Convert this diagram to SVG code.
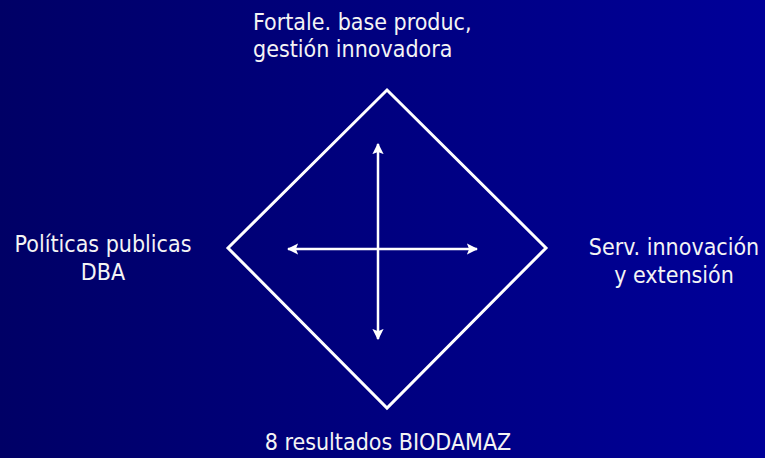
<svg xmlns="http://www.w3.org/2000/svg" width="765" height="458" viewBox="0 0 765 458">
<defs>
<linearGradient id="bg" x1="0" y1="0" x2="1" y2="0">
<stop offset="0" stop-color="#000066"/>
<stop offset="1" stop-color="#000099"/>
</linearGradient>
<marker id="ah" viewBox="0 0 10 10" refX="9" refY="5" markerWidth="4.5" markerHeight="4.5" orient="auto-start-reverse" markerUnits="strokeWidth">
<path d="M0,0 L10,5 L0,10 L2,5 Z" fill="#ffffff"/>
</marker>
<style>
.t{font-family:"DejaVu Sans Condensed","DejaVu Sans",sans-serif;font-size:23px;fill:#f4f4f4}
.ln{stroke:#ffffff;stroke-width:2.5;fill:none}
</style>
</defs>
<rect width="765" height="458" fill="url(#bg)"/>
<g id="diamond">
<polygon points="387,90 546,248 387,408 228,248" fill="none" stroke="#ffffff" stroke-width="3"/>
</g>
<g id="connectors">
<line class="ln" x1="378" y1="339" x2="378" y2="144" marker-start="url(#ah)" marker-end="url(#ah)"/>
<line class="ln" x1="288" y1="249" x2="477" y2="249" marker-start="url(#ah)" marker-end="url(#ah)"/>
</g>
<g id="n-top">
<text class="t" x="253" y="30">Fortale. base produc,</text>
<text class="t" x="253" y="57">gestión innovadora</text>
</g>
<g id="n-left">
<text class="t" x="103" y="252" text-anchor="middle">Políticas publicas</text>
<text class="t" x="103" y="280" text-anchor="middle">DBA</text>
</g>
<g id="n-right">
<text class="t" x="674" y="255" text-anchor="middle">Serv. innovación</text>
<text class="t" x="674" y="283" text-anchor="middle">y extensión</text>
</g>
<g id="n-bottom">
<text class="t" x="388" y="450" text-anchor="middle">8 resultados BIODAMAZ</text>
</g>
</svg>
